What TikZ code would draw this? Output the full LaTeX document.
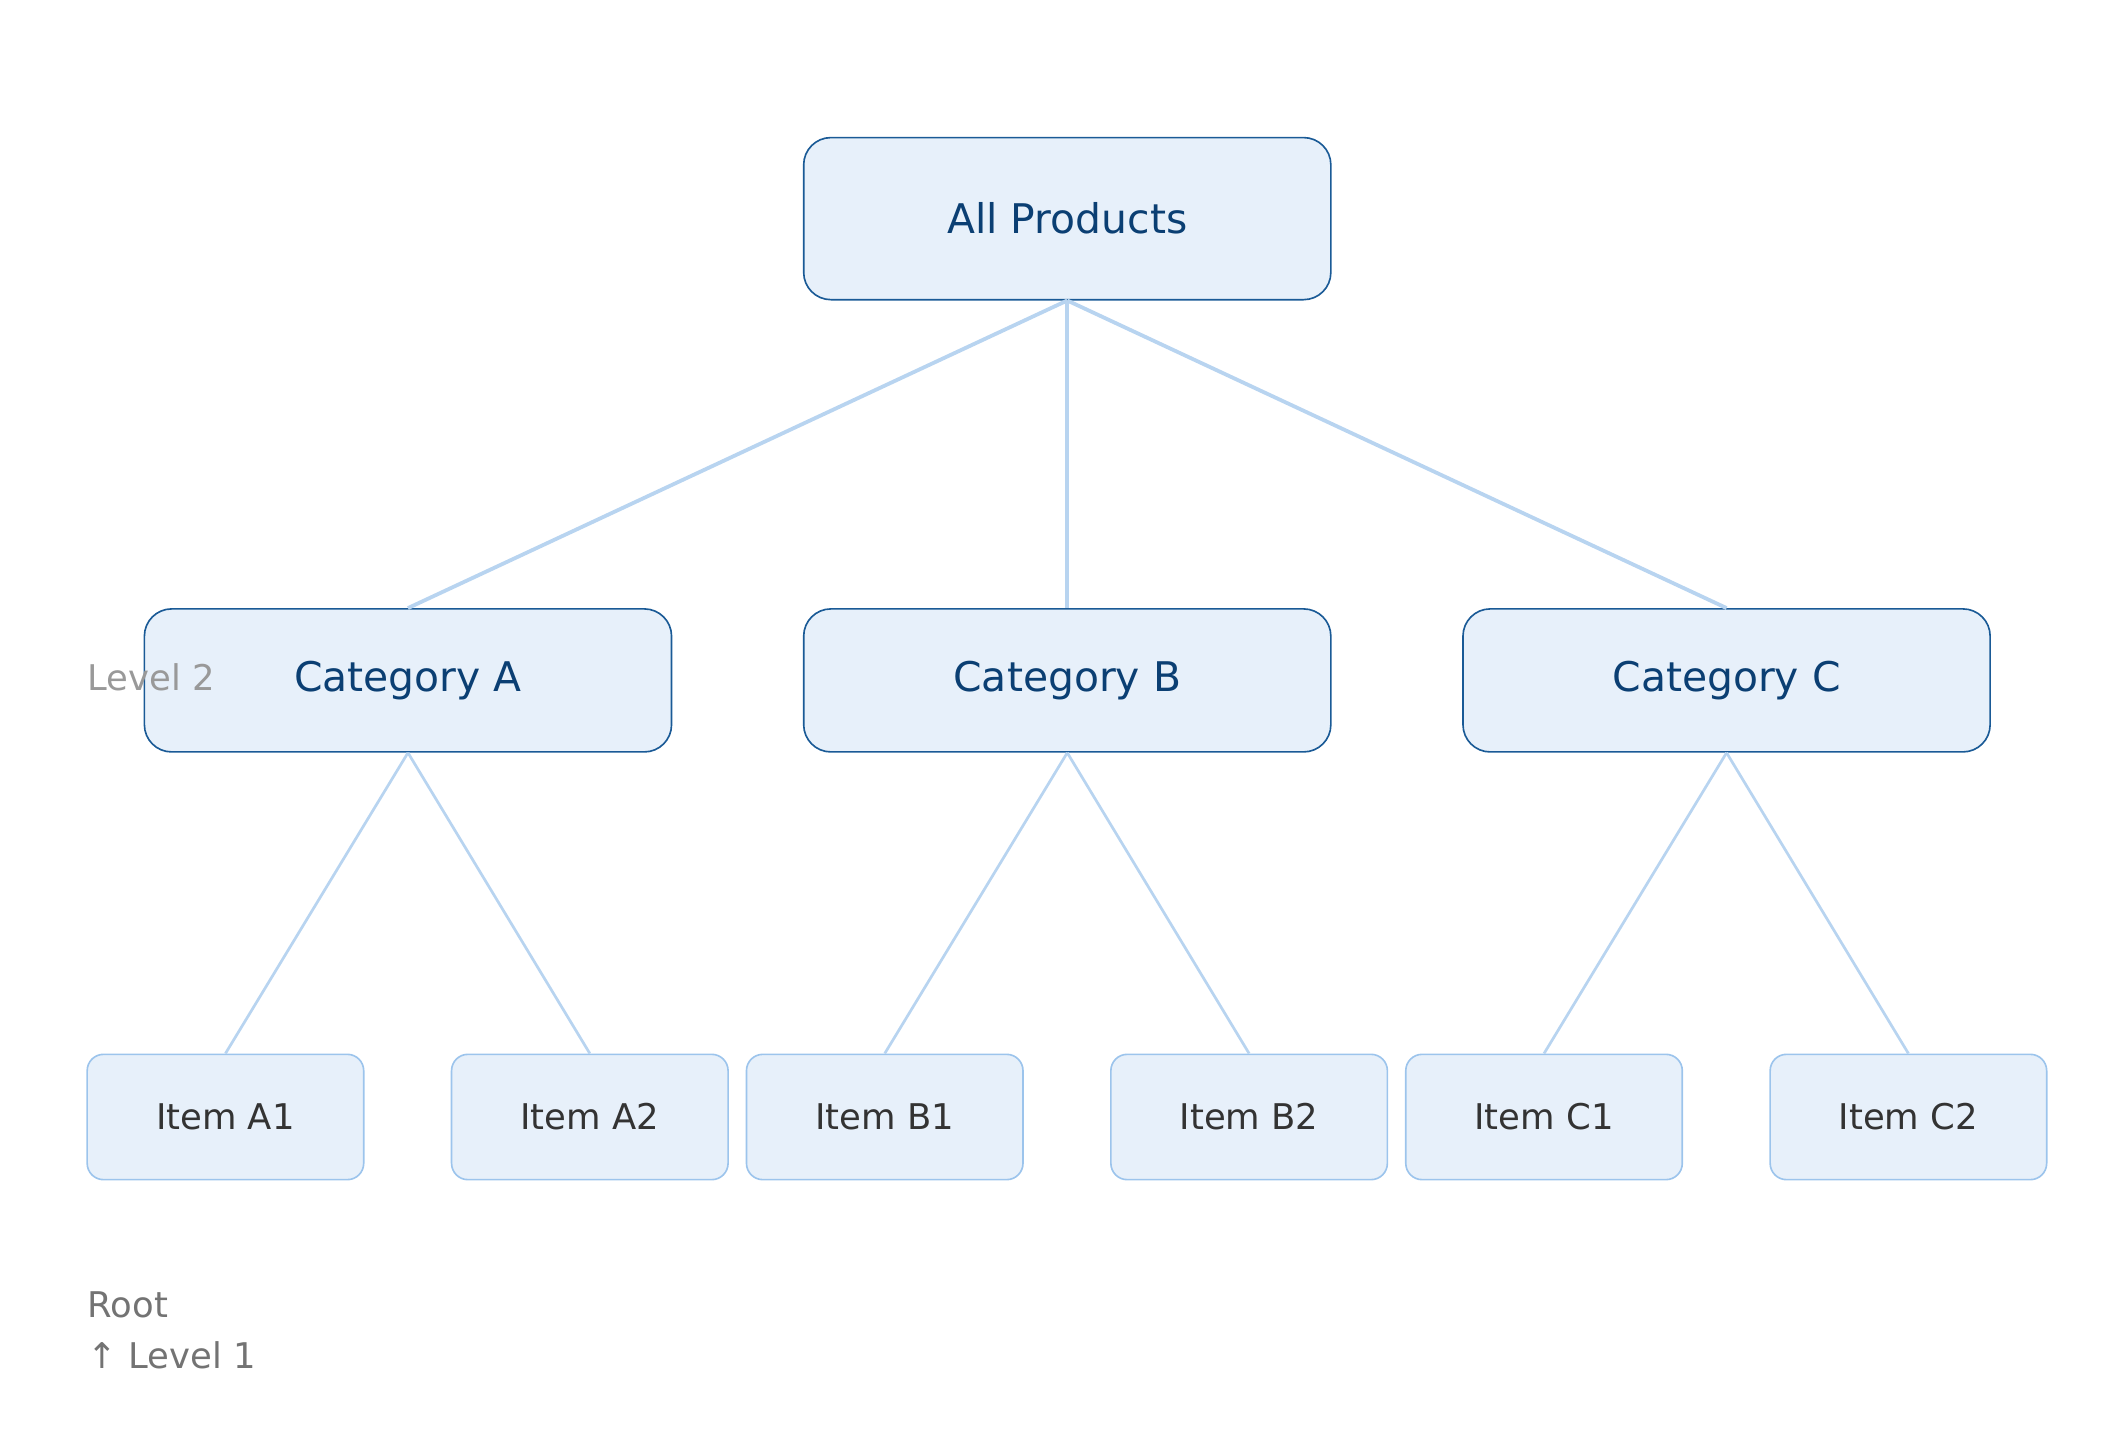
\documentclass[tikz,border=0pt]{standalone}
\usepackage{fontspec}
\setmainfont{DejaVu Sans}
\begin{document}
\definecolor{boxfill}{HTML}{E7F0FA}
\definecolor{darkb}{HTML}{1A5A96}
\definecolor{darkt}{HTML}{0B3F73}
\definecolor{itemb}{HTML}{9CC4EC}
\definecolor{edge}{HTML}{B8D4F0}
\begin{tikzpicture}[x=0.5pt,y=-0.5pt,
 top/.style={draw=darkb,fill=boxfill,rounded corners=10pt,line width=0.6pt,text=darkt,font=\fontsize{15}{18}\selectfont,inner sep=0pt},
 item/.style={draw=itemb,fill=boxfill,rounded corners=6pt,line width=0.6pt,text=black!80,font=\fontsize{13}{16}\selectfont,inner sep=0pt,minimum width=101.5pt,minimum height=46pt},
 cat/.style={top,minimum width=193.5pt,minimum height=52.5pt},
 ln/.style={draw=edge,line width=1pt},
 lbl/.style={anchor=west,font=\fontsize{13}{16}\selectfont,inner sep=0pt}]
\useasboundingbox (0,0) rectangle (1560,1055);
\node[top,minimum width=193.5pt,minimum height=59.5pt] (root) at (783.5,160.5) {All Products};
\node[cat] (ca) at (299.5,499.5) {Category A};
\node[cat] (cb) at (783.5,499.5) {Category B};
\node[cat] (cc) at (1267.5,499.5) {Category C};
\node[item] (a1) at (165.5,820) {Item A1};
\node[item] (a2) at (433,820) {Item A2};
\node[item] (b1) at (649.5,820) {Item B1};
\node[item] (b2) at (917,820) {Item B2};
\node[item] (c1) at (1133.5,820) {Item C1};
\node[item] (c2) at (1401,820) {Item C2};
\begin{scope}[on background layer/.try]
\draw[ln,line width=1.4pt] (root.south) -- (ca.north);
\draw[ln,line width=1.4pt] (root.south) -- (cb.north);
\draw[ln,line width=1.4pt] (root.south) -- (cc.north);
\draw[ln] (ca.south) -- (a1.north);
\draw[ln] (ca.south) -- (a2.north);
\draw[ln] (cb.south) -- (b1.north);
\draw[ln] (cb.south) -- (b2.north);
\draw[ln] (cc.south) -- (c1.north);
\draw[ln] (cc.south) -- (c2.north);
\end{scope}
\node[lbl,text=black!40] (l2) at (64,497) {Level 2};
\node[lbl,text=black!55] (r) at (64,958) {Root};
\node[lbl,text=black!55] (l1) at (64,995) {↑ Level 1};
\end{tikzpicture}
\end{document}
